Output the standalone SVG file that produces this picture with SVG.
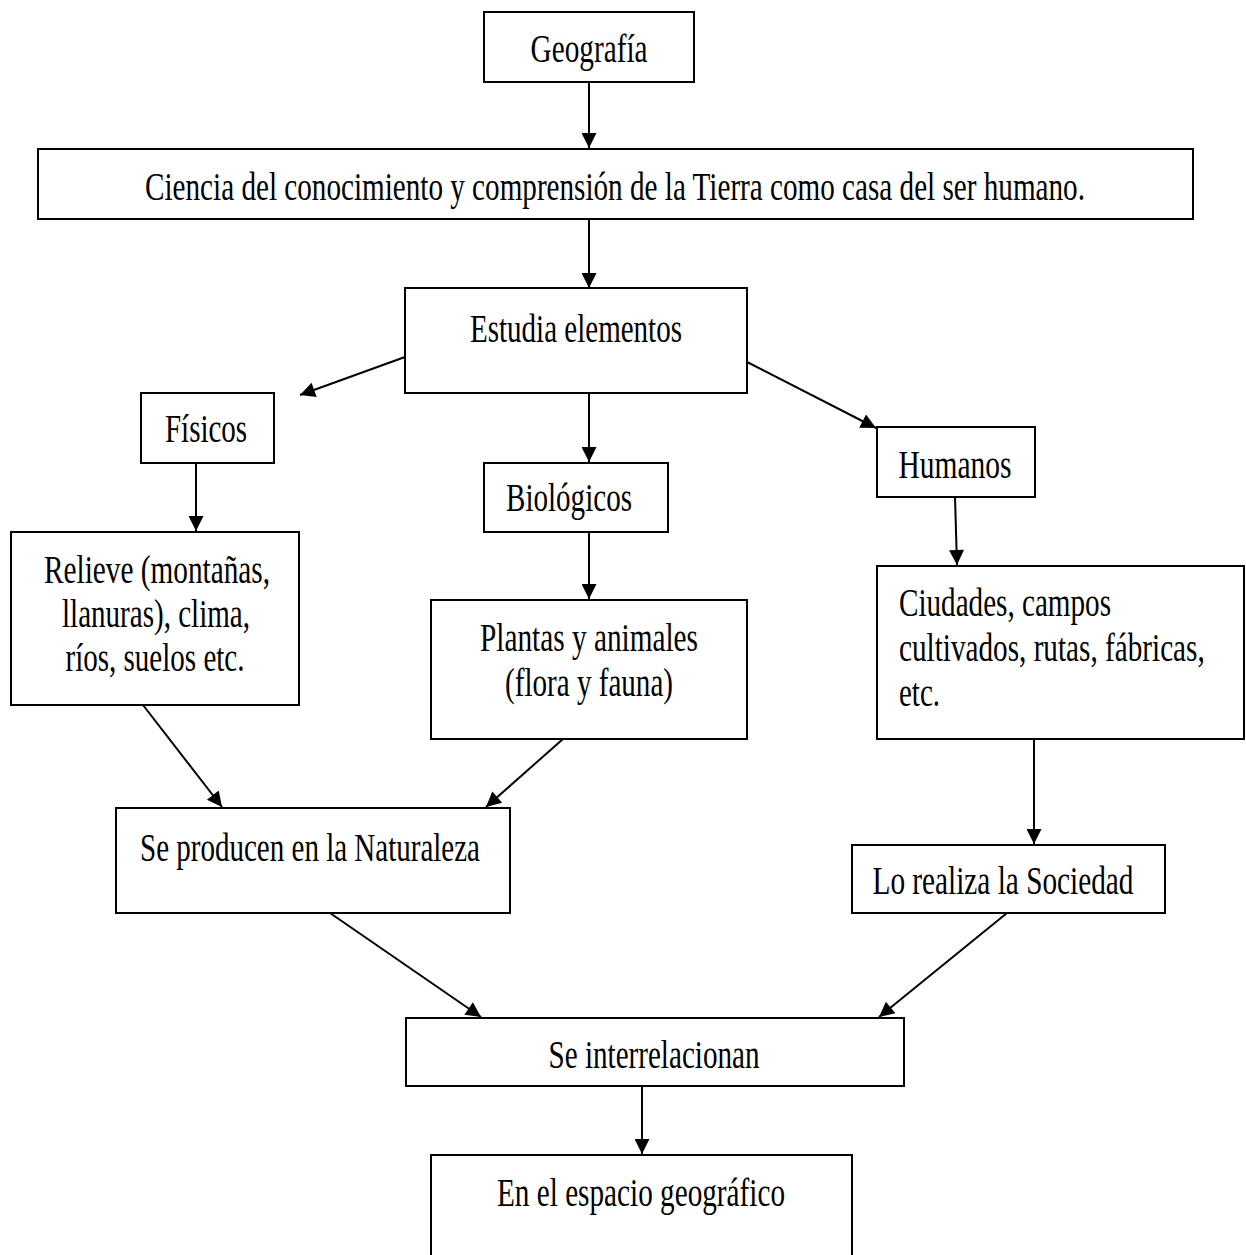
<svg xmlns="http://www.w3.org/2000/svg" width="1246" height="1255" viewBox="0 0 1246 1255">
<defs>
<marker id="ah" viewBox="0 0 10 10" refX="10" refY="5" markerWidth="18" markerHeight="15" markerUnits="userSpaceOnUse" orient="auto">
<path d="M0,0 L10,5 L0,10 z" fill="#000"/>
</marker>
<style>
rect{fill:#fff;stroke:#000;stroke-width:2}
text{font-family:"Liberation Serif","Times New Roman",serif;font-size:39px;fill:#000}
.c{text-anchor:middle}
#edges line{stroke:#000;stroke-width:2;marker-end:url(#ah)}
</style>
</defs>
<rect x="0" y="0" width="1246" height="1255" style="fill:#fff;stroke:none"/>
<g id="edges">
<line x1="589" y1="82" x2="589" y2="148"/>
<line x1="589" y1="219" x2="589" y2="288"/>
<line x1="405" y1="357" x2="300" y2="395"/>
<line x1="747" y1="362" x2="876" y2="428"/>
<line x1="589" y1="393" x2="589" y2="462"/>
<line x1="196" y1="463" x2="196" y2="531"/>
<line x1="589" y1="532" x2="589" y2="599"/>
<line x1="955" y1="497" x2="957" y2="565"/>
<line x1="143" y1="705" x2="222" y2="807"/>
<line x1="563" y1="739" x2="486" y2="807"/>
<line x1="1034" y1="739" x2="1034" y2="844"/>
<line x1="330" y1="913" x2="481" y2="1017"/>
<line x1="1007" y1="913" x2="879" y2="1017"/>
<line x1="642" y1="1086" x2="642" y2="1154"/>
</g>
<g id="n-geografia"><rect x="484" y="12" width="210" height="70"/><text x="589" y="62" class="c" textLength="117" lengthAdjust="spacingAndGlyphs">Geografía</text></g>
<g id="n-ciencia"><rect x="38" y="149" width="1155" height="70"/><text transform="translate(615,200) scale(0.78,1)" x="0" y="0" class="c" textLength="1205" lengthAdjust="spacingAndGlyphs">Ciencia del conocimiento y comprensión de la Tierra como casa del ser humano.</text></g>
<g id="n-estudia"><rect x="405" y="288" width="342" height="105"/><text x="576" y="342" class="c" textLength="212" lengthAdjust="spacingAndGlyphs">Estudia elementos</text></g>
<g id="n-fisicos"><rect x="141" y="393" width="133" height="70"/><text x="206" y="442" class="c" textLength="82" lengthAdjust="spacingAndGlyphs">Físicos</text></g>
<g id="n-biologicos"><rect x="484" y="463" width="184" height="69"/><text x="569" y="511" class="c" textLength="126" lengthAdjust="spacingAndGlyphs">Biológicos</text></g>
<g id="n-humanos"><rect x="877" y="427" width="158" height="70"/><text x="955" y="478" class="c" textLength="113" lengthAdjust="spacingAndGlyphs">Humanos</text></g>
<g id="n-relieve"><rect x="11" y="532" width="288" height="173"/>
<text x="157" y="583" class="c" textLength="226" lengthAdjust="spacingAndGlyphs">Relieve (montañas,</text>
<text x="156" y="627" class="c" textLength="188" lengthAdjust="spacingAndGlyphs">llanuras), clima,</text>
<text x="155" y="671" class="c" textLength="179" lengthAdjust="spacingAndGlyphs">ríos, suelos etc.</text></g>
<g id="n-plantas"><rect x="431" y="600" width="316" height="139"/>
<text x="589" y="651" class="c" textLength="218" lengthAdjust="spacingAndGlyphs">Plantas y animales</text>
<text x="589" y="696" class="c" textLength="168" lengthAdjust="spacingAndGlyphs">(flora y fauna)</text></g>
<g id="n-ciudades"><rect x="877" y="566" width="367" height="173"/>
<text x="899" y="616" textLength="212" lengthAdjust="spacingAndGlyphs">Ciudades, campos</text>
<text transform="translate(899,661) scale(0.78,1)" x="0" y="0" textLength="392" lengthAdjust="spacingAndGlyphs">cultivados, rutas, fábricas,</text>
<text x="899" y="706" textLength="41" lengthAdjust="spacingAndGlyphs">etc.</text></g>
<g id="n-naturaleza"><rect x="116" y="808" width="394" height="105"/><text x="310" y="861" class="c" textLength="340" lengthAdjust="spacingAndGlyphs">Se producen en la Naturaleza</text></g>
<g id="n-sociedad"><rect x="852" y="845" width="313" height="68"/><text x="1003" y="894" class="c" textLength="261" lengthAdjust="spacingAndGlyphs">Lo realiza la Sociedad</text></g>
<g id="n-interrelacionan"><rect x="406" y="1018" width="498" height="68"/><text x="654" y="1068" class="c" textLength="211" lengthAdjust="spacingAndGlyphs">Se interrelacionan</text></g>
<g id="n-espacio"><rect x="431" y="1155" width="421" height="110"/><text x="641" y="1206" class="c" textLength="288" lengthAdjust="spacingAndGlyphs">En el espacio geográfico</text></g>
</svg>
